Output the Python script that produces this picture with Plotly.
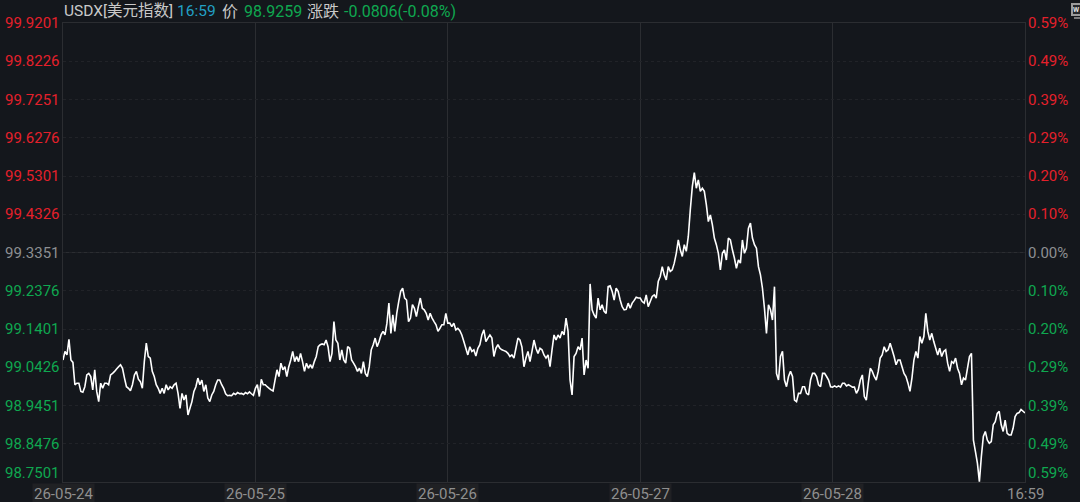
import plotly.graph_objects as go

# Intraday USDX closes, one list per trading session
session_24 = [99.061,99.083,99.074,99.114,99.061,99.055,98.998,99.002,99.002,98.981,98.979,98.993,99.023,99.027,99.019,98.985,99.036,98.981,98.955,99.002,98.989,99.002,99.002,98.998,99.023,99.027,99.032,99.038,99.044,99.049,99.040,99.015,98.993,98.989,98.983,98.998,99.023,99.032,99.012,99.006,98.989,99.057,99.104,99.070,99.066,99.032,99.019,98.998,98.989,98.976,98.989,98.976,98.998,98.985,98.993,98.989,98.998,99.002,98.976,98.938,98.976,98.959,98.972,98.921,98.938,98.955,98.981,98.993,99.015,98.998,99.010,98.981,98.998,98.964,98.955,98.972,98.981,98.998,99.010,99.010,98.998,98.989,98.975,98.970,98.971,98.970,98.976,98.973,98.978,98.975,98.976,98.973,98.978,98.975,98.980,98.975,98.971]
session_25 = [98.989,98.998,98.968,99.012,98.998,98.998,98.993,98.989,98.985,98.982,99.010,99.036,99.019,99.053,99.036,99.044,99.019,99.044,99.061,99.083,99.057,99.070,99.057,99.078,99.057,99.032,99.053,99.040,99.049,99.040,99.057,99.070,99.095,99.100,99.102,99.100,99.112,99.095,99.057,99.078,99.159,99.112,99.104,99.061,99.087,99.061,99.053,99.095,99.091,99.061,99.053,99.044,99.032,
99.040,99.027,99.057,99.027,99.019,99.044,99.087,99.100,99.117,99.095,99.108,99.125,99.134,99.125,99.155,99.206,99.129,99.176,99.134,99.180,99.210,99.236,99.244,99.219,99.214,99.159,99.168,99.202,99.193,99.172,99.197,99.219,99.193,99.189,99.180,99.163,99.180,99.168,99.159,99.151,99.134,99.142,99.151,99.151,99.180]
session_26 = [99.155,99.155,99.146,99.155,99.138,99.142,99.136,99.125,99.108,99.091,99.074,99.095,99.083,99.087,99.071,99.091,99.100,99.125,99.138,99.108,99.117,99.125,99.117,99.070,99.091,99.100,99.091,99.087,99.085,99.083,99.078,99.070,99.074,99.066,99.091,99.117,99.112,99.094,99.044,99.066,99.083,99.057,99.083,99.112,99.091,99.078,99.091,99.087,99.074,99.066,99.074,99.044,99.087,99.125,99.112,99.125,99.117,99.134,99.125,99.168,99.134,99.010,98.972,99.070,99.078,99.095,99.087,99.117,99.023,99.061,99.040,
99.255,99.189,99.176,99.168,99.219,99.189,99.202,99.185,99.180,99.248,99.250,99.236,99.214,99.244,99.236,99.214,99.197,99.189,99.190,99.206,99.193,99.206,99.213,99.221,99.219]
session_27 = [99.219,99.210,99.206,99.227,99.197,99.210,99.223,99.227,99.219,99.261,99.274,99.299,99.278,99.265,99.299,99.287,99.291,99.308,99.333,99.367,99.342,99.325,99.355,99.338,99.376,99.444,99.503,99.539,99.499,99.520,99.491,99.499,99.491,99.457,99.414,99.431,99.406,99.372,99.355,99.333,99.291,99.333,99.342,99.316,99.372,99.367,99.342,99.321,99.295,99.316,99.308,99.367,99.333,99.346,99.397,99.410,99.372,99.355,99.346,99.299,99.278,99.244,99.193,99.129,99.202,99.189,99.163,99.248,99.027,99.010,99.070,99.083,99.010,98.993,99.019,99.032,99.019,98.959,98.955,98.976,98.976,98.993,98.993,98.976,98.972,99.010,99.027,99.027,99.019,98.998,98.993,99.027,99.027,99.019,99.010,98.993]
session_28 = [98.992,98.995,98.992,98.995,98.992,99.002,99.002,98.995,98.998,98.995,98.992,98.992,98.976,98.986,99.010,99.023,98.968,98.959,99.002,99.040,99.032,99.019,99.010,99.032,99.066,99.074,99.095,99.083,99.087,99.104,99.087,99.070,99.049,99.061,99.061,99.044,99.027,99.019,99.002,98.981,99.015,99.061,99.083,99.066,99.121,99.104,99.121,99.180,99.134,99.112,99.129,99.108,99.091,99.074,99.091,99.070,99.083,99.087,99.053,99.032,99.057,99.053,99.066,99.040,99.027,98.998,99.015,99.010,99.040,99.070,99.078,
98.857,98.828,98.798,98.751,98.815,98.866,98.879,98.857,98.849,98.853,98.896,98.904,98.925,98.930,98.896,98.879,98.908,98.874,98.870,98.870,98.887,98.917,98.925,98.927,98.935,98.9259]
sessions = [session_24, session_25, session_26, session_27, session_28]

price_ticks = [99.9201,99.8226,99.7251,99.6276,99.5301,99.4326,99.3351,99.2376,99.1401,99.0426,98.9451,98.8476,98.7501]
pct_labels = ["0.59%","0.49%","0.39%","0.29%","0.20%","0.10%","0.00%","0.10%","0.20%","0.29%","0.39%","0.49%","0.59%"]
prev_close = 99.3351
date_labels = ["26-05-24","26-05-25","26-05-26","26-05-27","26-05-28","16:59"]

BG = "#14171c"
RED = "#e5202b"
GREEN = "#0fa850"
GRID = "#2b2d31"
FONT = "Roboto, 'Noto Sans CJK SC', sans-serif"
LEFT, RIGHT, TOP, BOTTOM = 63, 55, 23, 20
PLOT_W, PLOT_H = 1080 - LEFT - RIGHT, 502 - TOP - BOTTOM


def paper_x(px):
    return (px - LEFT) / PLOT_W


def paper_y(py):
    return (502 - BOTTOM - py) / PLOT_H


# Sessions sit side by side on a day-index axis
xs, ys = [], []
for day, values in enumerate(sessions):
    for i, v in enumerate(values):
        xs.append(day + i / len(values))
        ys.append(v)
xs[-1] = 5

fig = go.Figure(go.Scatter(x=xs, y=ys, mode="lines",
                           line=dict(color="#ffffff", width=1.6, simplify=False),
                           hoverinfo="skip"))

fig.update_layout(
    width=1080, height=502, autosize=False,
    margin=dict(l=LEFT, r=RIGHT, t=TOP, b=BOTTOM),
    paper_bgcolor=BG, plot_bgcolor=BG, showlegend=False,
    font=dict(family=FONT),
    xaxis=dict(range=[0, 5], tickvals=list(range(6)), showticklabels=False,
               showgrid=True, gridcolor=GRID, gridwidth=1, zeroline=False,
               showline=True, linecolor=GRID, mirror=True, ticks=""),
    yaxis=dict(range=[price_ticks[-1], price_ticks[0]], tickvals=price_ticks,
               showticklabels=False, showgrid=True, gridcolor="#212328", griddash="dot",
               gridwidth=1, zeroline=False, showline=True, linecolor=GRID, mirror=True, ticks=""),
)

# Solid line at the previous close
fig.add_hline(y=prev_close, line=dict(color=GRID, width=1), layer="below")

# Price and percent labels on both sides, coloured by side of the previous close
for price, pct in zip(price_ticks, pct_labels):
    if price > prev_close:
        color = RED
    elif price < prev_close:
        color = GREEN
    else:
        color = "#8d8f92"
    shift = 9 if price == price_ticks[-1] else 0
    fig.add_annotation(xref="paper", yref="y", x=0, y=price, xanchor="right", xshift=-1, yshift=shift,
                       text=f"{price:.4f}", showarrow=False, font=dict(size=15, color=color))
    fig.add_annotation(xref="paper", yref="y", x=1, y=price, xanchor="left", xshift=1, yshift=shift,
                       text=pct, showarrow=False, font=dict(size=15, color=color))

# Time labels under the plot
for i, label in enumerate(date_labels):
    fig.add_annotation(xref="x", yref="paper", x=i, y=0, yanchor="top", yshift=-1,
                       xanchor="center", text=label, showarrow=False,
                       font=dict(size=15, color="#8f8f8f"),
                       bgcolor="#202124" if i < 5 else BG)

# Quote header
header = [
    (62, "USDX[美元指数]", "#c9c9c9", 15.5),
    (175, "16:59", "#22a0c4", 15.5),
    (220, "价", "#c9c9c9", 16),
    (242, "98.9259", GREEN, 16),
    (305, "涨跌", "#c9c9c9", 16),
    (342, "-0.0806(-0.08%)", GREEN, 16),
]
for px, text, color, size in header:
    fig.add_annotation(xref="paper", yref="paper", x=paper_x(px), y=paper_y(11),
                       yanchor="middle", xanchor="left", text=text, showarrow=False,
                       font=dict(size=size, color=color))

# Small workspace badge in the top right corner
fig.add_shape(type="rect", xref="paper", yref="paper",
              x0=paper_x(1072), x1=paper_x(1081), y0=paper_y(15), y1=paper_y(4),
              line=dict(color="#9b9b9b", width=2), fillcolor="#26282c")
fig.add_shape(type="line", xref="paper", yref="paper",
              x0=paper_x(1074), x1=paper_x(1080), y0=paper_y(18), y1=paper_y(18),
              line=dict(color="#9b9b9b", width=1.5))
fig.add_annotation(xref="paper", yref="paper", x=paper_x(1079.5), y=paper_y(9.5),
                   xanchor="right", yanchor="middle", text="<b>W</b>", showarrow=False,
                   borderpad=0, borderwidth=0, font=dict(size=7, color="#e0e0e0"))

fig.write_html("out.html")
